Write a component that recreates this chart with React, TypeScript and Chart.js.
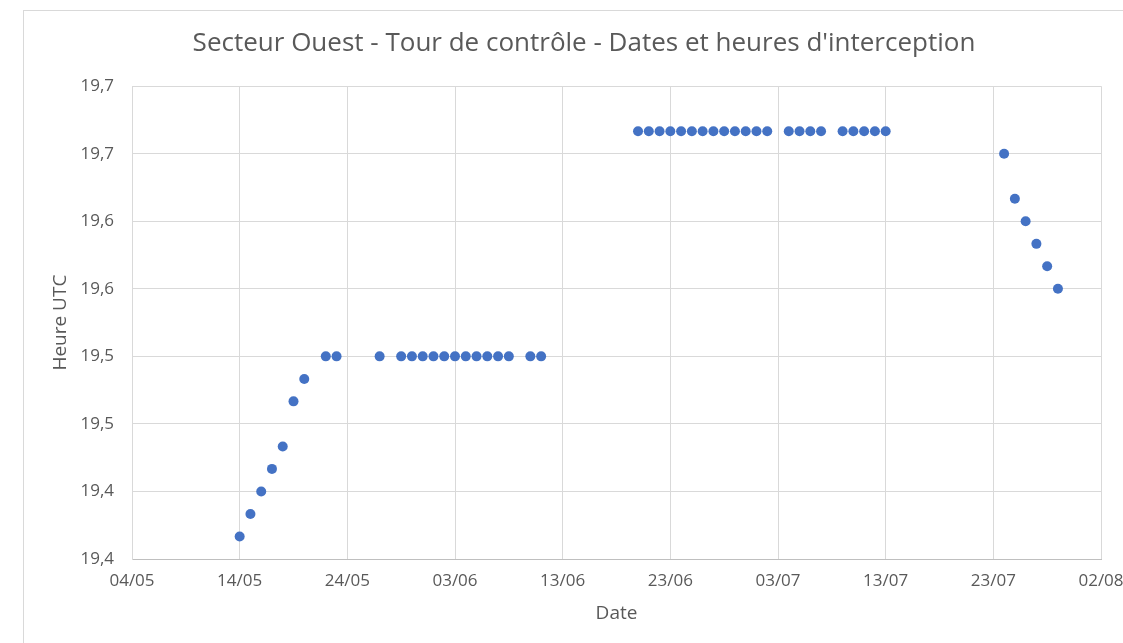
import React, { useEffect, useRef } from "react";
import { Chart, registerables } from "chart.js";

Chart.register(...registerables);

const titleText = "Secteur Ouest - Tour de contrôle - Dates et heures d'interception";
const xAxisTitle = "Date";
const yAxisTitle = "Heure UTC";

// Dates (dd/mm) of each interception
const dates = [
  "14/05", "15/05", "16/05", "17/05", "18/05", "19/05", "20/05", "22/05", "23/05",
  "27/05", "29/05", "30/05", "31/05", "01/06", "02/06", "03/06", "04/06", "05/06",
  "06/06", "07/06", "08/06", "10/06", "11/06",
  "20/06", "21/06", "22/06", "23/06", "24/06", "25/06", "26/06", "27/06", "28/06",
  "29/06", "30/06", "01/07", "02/07",
  "04/07", "05/07", "06/07", "07/07",
  "09/07", "10/07", "11/07", "12/07", "13/07",
  "24/07", "25/07", "26/07", "27/07", "28/07", "29/07",
];

// Hour UTC (decimal hours)
const heures = [
  19.3667, 19.3833, 19.4, 19.4167, 19.4333, 19.4667, 19.4833, 19.5, 19.5,
  19.5, 19.5, 19.5, 19.5, 19.5, 19.5, 19.5, 19.5, 19.5,
  19.5, 19.5, 19.5, 19.5, 19.5,
  19.6667, 19.6667, 19.6667, 19.6667, 19.6667, 19.6667, 19.6667, 19.6667, 19.6667,
  19.6667, 19.6667, 19.6667, 19.6667,
  19.6667, 19.6667, 19.6667, 19.6667,
  19.6667, 19.6667, 19.6667, 19.6667, 19.6667,
  19.65, 19.6167, 19.6, 19.5833, 19.5667, 19.55,
];

const xTickLabels = ["04/05", "14/05", "24/05", "03/06", "13/06", "23/06", "03/07", "13/07", "23/07", "02/08"];
const yTickLabels = ["19,4", "19,4", "19,5", "19,5", "19,6", "19,6", "19,7", "19,7"];

const YEAR = 2023;
const ORIGIN = "04/05";

function dayIndex(s: string): number {
  const [d, m] = s.split("/").map(Number);
  const [od, om] = ORIGIN.split("/").map(Number);
  return Math.round((Date.UTC(YEAR, m - 1, d) - Date.UTC(YEAR, om - 1, od)) / 86400000);
}

const TEXT = "#595959";
const GRID = "#d9d9d9";
const FONT = "'Open Sans', 'Noto Sans', sans-serif";

export default function App() {
  const ref = useRef<HTMLCanvasElement | null>(null);

  useEffect(() => {
    if (!ref.current) return;
    const points = dates.map((d, i) => ({ x: dayIndex(d), y: heures[i] }));
    const xMax = dayIndex(xTickLabels[xTickLabels.length - 1]);
    const chart = new Chart(ref.current, {
      type: "scatter",
      data: {
        datasets: [
          {
            label: "Heure UTC",
            data: points,
            backgroundColor: "#4472C4",
            borderColor: "#4472C4",
            pointRadius: 5,
            pointBorderWidth: 0,
            pointHoverRadius: 5,
          },
        ],
      },
      options: {
        responsive: false,
        animation: false,
        layout: { padding: { left: 23, right: 0, top: 10, bottom: 0 } },
        plugins: {
          legend: { display: false },
          tooltip: { enabled: false },
          title: {
            display: true,
            text: titleText,
            color: TEXT,
            font: { family: FONT, size: 26, weight: "normal" },
            padding: { top: 18, bottom: 27 },
          },
        },
        scales: {
          x: {
            type: "linear",
            min: 0,
            max: xMax,
            afterFit: (s: any) => {
              s.height = 84;
              s.paddingRight = 44;
            },
            ticks: {
              stepSize: 10,
              color: TEXT,
              font: { family: FONT, size: 17 },
              padding: 12,
              maxRotation: 0,
              autoSkip: false,
              callback: (_v: any, i: number) => xTickLabels[i],
            },
            grid: { color: GRID, drawTicks: false },
            border: { color: "#bfbfbf", width: 1 },
            title: {
              display: true,
              text: xAxisTitle,
              color: TEXT,
              font: { family: FONT, size: 19 },
              padding: { top: 0, bottom: 18 },
            },
          },
          y: {
            min: 19.35,
            max: 19.7,
            afterFit: (s: any) => {
              s.width = 109;
            },
            ticks: {
              stepSize: 0.05,
              color: TEXT,
              font: { family: FONT, size: 17 },
              padding: 18,
              autoSkip: false,
              callback: (_v: any, i: number) => yTickLabels[i],
            },
            grid: { color: GRID, drawTicks: false },
            border: { color: GRID, width: 1 },
            title: {
              display: true,
              text: yAxisTitle,
              color: TEXT,
              font: { family: FONT, size: 19 },
              padding: { top: 26, bottom: 0 },
            },
          },
        },
      },
    });
    return () => chart.destroy();
  }, []);

  return (
    <div
      style={{
        position: "fixed",
        left: 0,
        top: 0,
        width: 1123,
        height: 643,
        overflow: "hidden",
        background: "#ffffff",
      }}
    >
      <div
        style={{
          position: "absolute",
          left: 23,
          top: 10,
          width: 1200,
          height: 700,
          borderLeft: "1px solid #d9d9d9",
          borderTop: "1px solid #d9d9d9",
        }}
      />
      <canvas
        ref={ref}
        width={1145}
        height={643}
        style={{ position: "absolute", left: 0, top: 0, width: 1145, height: 643 }}
      />
    </div>
  );
}
